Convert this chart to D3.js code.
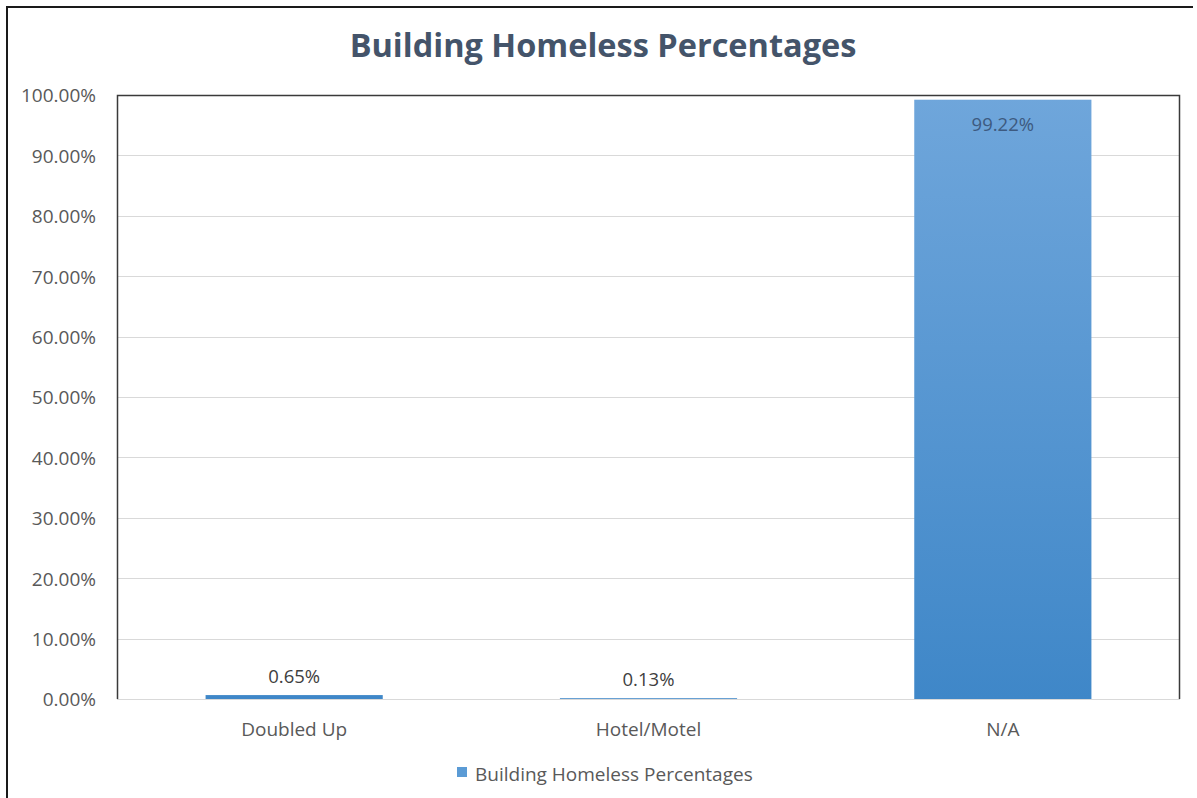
<!DOCTYPE html>
<html>
<head>
<meta charset="utf-8">
<script src="https://cdn.jsdelivr.net/npm/d3@7"></script>
<style>
  html, body { margin: 0; padding: 0; background: #fff; }
  svg { display: block; }
</style>
</head>
<body>
<svg id="chart" width="1197" height="798"></svg>
<script>
// Chart data
const categories = ["Doubled Up", "Hotel/Motel", "N/A"];
const values = [0.65, 0.13, 99.22];
const yTicks = [0, 10, 20, 30, 40, 50, 60, 70, 80, 90, 100];
const seriesName = "Building Homeless Percentages";
const chartTitle = "Building Homeless Percentages";

const svg = d3.select("#chart");
const W = 1197, H = 798;
const font = "'Open Sans', 'Noto Sans', sans-serif";

const plot = { left: 117, top: 95, right: 1180, bottom: 699 };

const x = d3.scaleBand()
  .domain(categories)
  .range([plot.left, plot.right])
  .paddingInner(0.5)
  .paddingOuter(0.25);

const y = d3.scaleLinear()
  .domain([0, 100])
  .range([plot.bottom, plot.top]);

// Gradient fill for the bars
const defs = svg.append("defs");
const grad = defs.append("linearGradient")
  .attr("id", "barGrad")
  .attr("gradientUnits", "userSpaceOnUse")
  .attr("x1", 0).attr("y1", plot.top)
  .attr("x2", 0).attr("y2", plot.bottom);
grad.append("stop").attr("offset", "0%").attr("stop-color", "#6fa6db");
grad.append("stop").attr("offset", "100%").attr("stop-color", "#3f87c8");

// Outer chart frame (top and left edges)
svg.append("line").attr("x1", 6).attr("y1", 7).attr("x2", 1193).attr("y2", 7)
  .attr("stroke", "#1a1a1a").attr("stroke-width", 2);
svg.append("line").attr("x1", 7).attr("y1", 6).attr("x2", 7).attr("y2", H)
  .attr("stroke", "#1a1a1a").attr("stroke-width", 2);

// Title
svg.append("text")
  .attr("x", 603).attr("y", 57)
  .attr("text-anchor", "middle")
  .attr("font-family", font)
  .attr("font-weight", "bold")
  .attr("font-size", 32.5)
  .attr("fill", "#44546a")
  .text(chartTitle);

// Gridlines
svg.append("g")
  .selectAll("line")
  .data(yTicks)
  .join("line")
  .attr("x1", plot.left).attr("x2", plot.right)
  .attr("y1", d => Math.round(y(d)) + 0.5)
  .attr("y2", d => Math.round(y(d)) + 0.5)
  .attr("stroke", "#d9d9d9")
  .attr("stroke-width", 1);

// Y axis labels
const yAxis = d3.axisLeft(y)
  .tickValues(yTicks)
  .tickSize(0)
  .tickPadding(0)
  .tickFormat(d => d.toFixed(2) + "%");
const gy = svg.append("g")
  .attr("transform", `translate(96,0)`)
  .call(yAxis);
gy.select(".domain").remove();
gy.selectAll("text")
  .attr("dy", "0.36em")
  .attr("font-family", font)
  .attr("font-size", 19)
  .attr("fill", "#595959");

// Bars
svg.append("g")
  .selectAll("rect")
  .data(values)
  .join("rect")
  .attr("x", (d, i) => x(categories[i]))
  .attr("width", x.bandwidth())
  .attr("y", d => y(d))
  .attr("height", d => y(0) - y(d))
  .attr("fill", "url(#barGrad)");

// Data labels
svg.append("g")
  .selectAll("text")
  .data(values)
  .join("text")
  .attr("x", (d, i) => x(categories[i]) + x.bandwidth() / 2)
  .attr("y", d => d > 50 ? y(d) + 31 : y(d) - 12)
  .attr("text-anchor", "middle")
  .attr("font-family", font)
  .attr("font-size", 18.5)
  .attr("fill", d => d > 50 ? "#3d5a80" : "#404040")
  .text(d => d.toFixed(2) + "%");

// Plot area frame: left, top, right
svg.append("path")
  .attr("d", `M${plot.left + 0.5},${plot.bottom} V${plot.top + 0.5} H${plot.right - 0.5} V${plot.bottom}`)
  .attr("fill", "none")
  .attr("stroke", "#3a3a3a")
  .attr("stroke-width", 1.5);

// X axis labels
const xAxis = d3.axisBottom(x).tickSize(0).tickPadding(0);
const gx = svg.append("g")
  .attr("transform", `translate(0,${plot.bottom + 37})`)
  .call(xAxis);
gx.select(".domain").remove();
gx.selectAll("text")
  .attr("dy", 0)
  .attr("font-family", font)
  .attr("font-size", 19)
  .attr("fill", "#595959");

// Legend
const legend = svg.append("g").attr("transform", "translate(457,767)");
legend.append("rect")
  .attr("width", 10).attr("height", 10)
  .attr("fill", "#5b9bd5");
legend.append("text")
  .attr("x", 18).attr("y", 14)
  .attr("font-family", font)
  .attr("font-size", 19)
  .attr("fill", "#595959")
  .text(seriesName);
</script>
</body>
</html>
